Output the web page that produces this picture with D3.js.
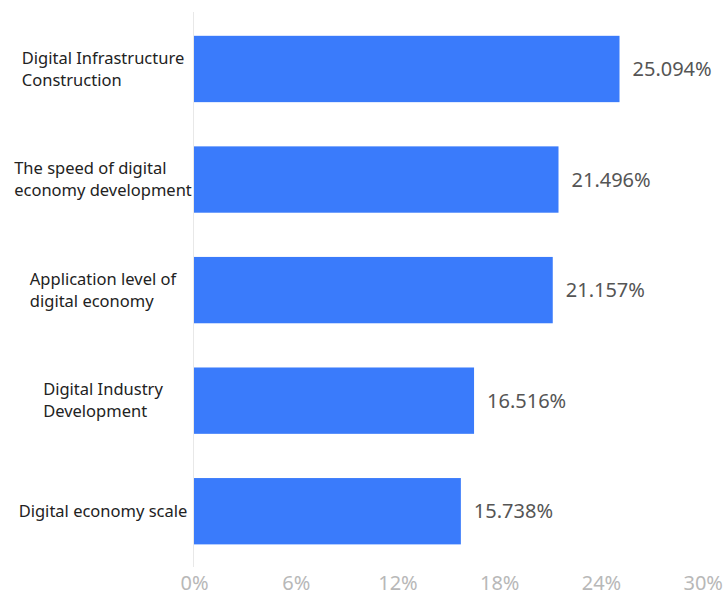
<!DOCTYPE html>
<html><head><meta charset="utf-8">
<script src="https://cdn.jsdelivr.net/npm/d3@7"></script>
<style>body{margin:0;background:#fff;} svg{display:block;font-family:"Noto Sans","Open Sans",sans-serif;}</style>
</head><body>
<svg id="c" width="723" height="597"></svg>
<script>
const categories = [
  ["Digital Infrastructure","Construction"],
  ["The speed of digital","economy development"],
  ["Application level of","digital economy"],
  ["Digital Industry","Development"],
  ["Digital economy scale"]
];
const values = [25.094, 21.496, 21.157, 16.516, 15.738];
const xTicks = [0, 6, 12, 18, 24, 30];

const svg = d3.select("#c");
const x = d3.scaleLinear().domain([0, 30]).range([194, 702.7]);
const y = d3.scaleBand().domain(d3.range(values.length)).range([13.7, 566.5]).paddingInner(0.4).paddingOuter(0.2);

// axis line
svg.append("line").attr("x1", x(0)-0.5).attr("x2", x(0)-0.5).attr("y1", 12).attr("y2", 567)
  .attr("stroke", "#e8e8e8").attr("stroke-width", 1);

// bars
svg.selectAll("rect.bar").data(values).join("rect").attr("class","bar")
  .attr("x", x(0)).attr("y", (d,i)=>y(i)).attr("height", y.bandwidth())
  .attr("width", d => x(d)-x(0)).attr("fill", "#3a7bfb");

// value labels
svg.selectAll("text.val").data(values).join("text").attr("class","val")
  .attr("x", d => x(d)+13).attr("y", (d,i)=>y(i)+y.bandwidth()/2)
  .attr("dy","0.35em").attr("font-size", 20).attr("fill", "#555")
  .text(d => d.toFixed(3) + "%");

// x axis tick labels
const xAxis = d3.axisBottom(x).tickValues(xTicks).tickFormat(d => d + "%").tickSize(0);
const gx = svg.append("g").attr("transform", "translate(0,573)").call(xAxis);
gx.select(".domain").remove();
gx.selectAll("text").attr("font-size", 20).attr("fill", "#b8b8b8")
  .attr("font-family", '"Noto Sans","Open Sans",sans-serif');

// category labels: left-aligned lines, block centred in the left margin
const lineH = 22;
categories.forEach((lines, i) => {
  const cy = y(i) + y.bandwidth()/2;
  const t = svg.append("text").attr("font-size", 16.5).attr("fill", "#222");
  const n = lines.length;
  lines.forEach((ln, k) => {
    t.append("tspan").attr("x", 0).attr("y", cy + (k - (n-1)/2) * lineH).attr("dy","0.35em").text(ln);
  });
  let w = 0;
  t.selectAll("tspan").each(function(){ w = Math.max(w, this.getComputedTextLength()); });
  t.selectAll("tspan").attr("x", 103 - w/2);
});
</script>
</body></html>
